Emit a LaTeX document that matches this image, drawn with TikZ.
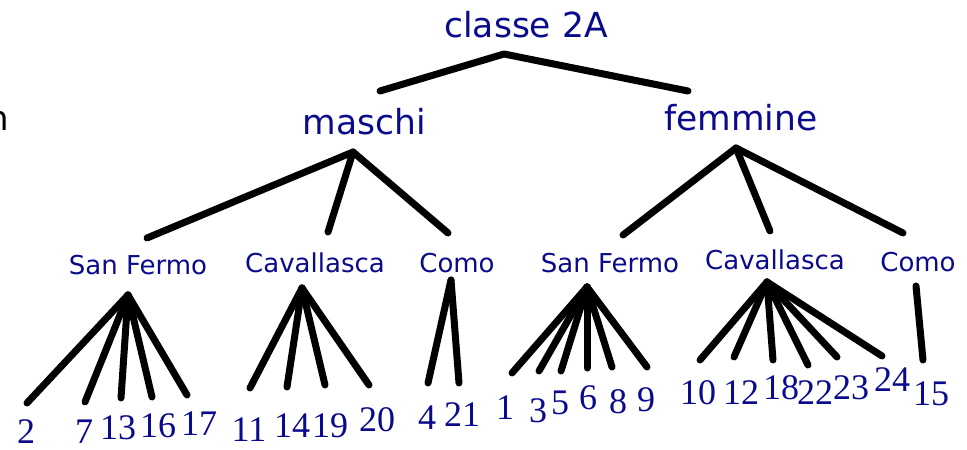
\documentclass[tikz,border=0pt]{standalone}
\usepackage{fontspec}
\setmainfont{Liberation Serif}
\newfontfamily\lblfont{DejaVu Sans}
\definecolor{navy}{RGB}{10,10,140}
\begin{document}
\begin{tikzpicture}[x=1pt,y=-1pt,
  lab/.style={font=\lblfont\fontsize{34.5}{38}\selectfont, text=navy, inner sep=0pt},
  sub/.style={font=\lblfont\fontsize{26}{30}\selectfont, text=navy, inner sep=0pt},
  num/.style={font=\fontsize{36}{40}\selectfont, text=navy, inner sep=0pt},
  branch/.style={line width=7pt, line cap=round, line join=round}]
\useasboundingbox (0,0) rectangle (967,450);
% labels
\node[lab] (classe) at (526,25) {classe 2A};
\node[lab] (maschi) at (364,122) {maschi};
\node[lab] (femmine) at (741,118) {femmine};
\node[font=\lblfont\fontsize{34}{38}\selectfont, inner sep=0pt, anchor=base east] (cut) at (9,130) {n};
\node[sub] (msf) at (138,265) {San Fermo};
\node[sub] (mcav) at (315,263) {Cavallasca};
\node[sub] (mco) at (457,263) {Como};
\node[sub] (fsf) at (610,263) {San Fermo};
\node[sub] (fcav) at (775,260) {Cavallasca};
\node[sub] (fco) at (918,262) {Como};
% numbers
\node[num] (n2) at (26,432) {2};
\node[num] (n7) at (84,432) {7};
\node[num] (n13) at (118,428) {13};
\node[num] (n16) at (158,426) {16};
\node[num] (n17) at (199,424) {17};
\node[num] (n11) at (249,430) {11};
\node[num] (n14) at (292,426) {14};
\node[num] (n19) at (330,426) {19};
\node[num] (n20) at (377,420) {20};
\node[num] (n4) at (427,418) {4};
\node[num] (n21) at (462,415) {21};
\node[num] (n1) at (505,408) {1};
\node[num] (n3) at (538,411) {3};
\node[num] (n5) at (560,403) {5};
\node[num] (n6) at (588,398) {6};
\node[num] (n8) at (618,402) {8};
\node[num] (n9) at (646,400) {9};
\node[num] (n10) at (698,393) {10};
\node[num] (n12) at (741,393) {12};
\node[num] (n18) at (781,388) {18};
\node[num] (n22) at (815,393) {22};
\node[num] (n23) at (851,388) {23};
\node[num] (n24) at (892,380) {24};
\node[num] (n15) at (931,394) {15};
% branch points
\coordinate (aC) at (504,54);
\coordinate (eCm) at (380,91);
\coordinate (eCf) at (688,91);
\coordinate (aM) at (353,152);
\coordinate (eMsf) at (147,238);
\coordinate (eMcav) at (328,232);
\coordinate (eMco) at (448,233);
\coordinate (aF) at (736,148);
\coordinate (eFsf) at (623,235);
\coordinate (eFcav) at (770,231);
\coordinate (eFco) at (903,233);
\coordinate (aMsf) at (128,295);
\coordinate (e2) at (27,403);
\coordinate (e7) at (85,402);
\coordinate (e13) at (121,398);
\coordinate (e16) at (152,397);
\coordinate (e17) at (187,395);
\coordinate (aMcav) at (302,288);
\coordinate (e11) at (250,388);
\coordinate (e14) at (287,387);
\coordinate (e19) at (325,385);
\coordinate (e20) at (369,385);
\coordinate (aMco) at (451,280);
\coordinate (e4) at (428,383);
\coordinate (e21) at (459,383);
\coordinate (aFsf) at (587,287);
\coordinate (e1) at (512,373);
\coordinate (e3) at (539,371);
\coordinate (e5) at (561,371);
\coordinate (e6) at (587,368);
\coordinate (e8) at (612,367);
\coordinate (e9) at (647,367);
\coordinate (aFcav) at (767,282);
\coordinate (e10) at (700,360);
\coordinate (e12) at (734,357);
\coordinate (e18) at (773,360);
\coordinate (e22) at (808,365);
\coordinate (e23) at (837,357);
\coordinate (e24) at (882,356);
\coordinate (aFco) at (916,286);
\coordinate (e15) at (923,360);
% connectors
\draw[branch] (eCm) -- (aC) -- (eCf);
\foreach \e in {eMsf,eMcav,eMco} \draw[branch] (aM) -- (\e);
\foreach \e in {eFsf,eFcav,eFco} \draw[branch] (aF) -- (\e);
\foreach \e in {e2,e7,e13,e16,e17} \draw[branch] (aMsf) -- (\e);
\foreach \e in {e11,e14,e19,e20} \draw[branch] (aMcav) -- (\e);
\foreach \e in {e4,e21} \draw[branch] (aMco) -- (\e);
\foreach \e in {e1,e3,e5,e6,e8,e9} \draw[branch] (aFsf) -- (\e);
\foreach \e in {e10,e12,e18,e22,e23,e24} \draw[branch] (aFcav) -- (\e);
\draw[branch] (aFco) -- (e15);
\end{tikzpicture}
\end{document}
